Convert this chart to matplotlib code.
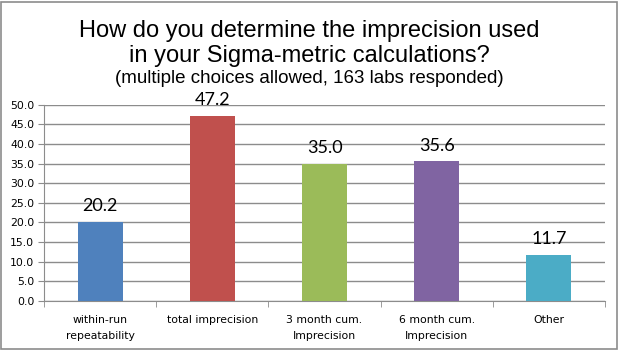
import matplotlib
matplotlib.use("Agg")
import matplotlib.pyplot as plt
from matplotlib.patches import Rectangle

categories = ["within-run\nrepeatability", "total imprecision",
              "3 month cum.\nImprecision", "6 month cum.\nImprecision", "Other"]
values = [20.2, 47.2, 35.0, 35.6, 11.7]
colors = ["#4F81BD", "#C0504D", "#9BBB59", "#8064A2", "#4BACC6"]
yticks = [0, 5, 10, 15, 20, 25, 30, 35, 40, 45, 50]

fig = plt.figure(figsize=(6.19, 3.5), dpi=100)
ax = fig.add_axes([44 / 619, 49 / 350, 561 / 619, 196.3 / 350])

x = list(range(len(values)))
ax.bar(x, values, width=0.4, color=colors, zorder=3)
for xi, v in zip(x, values):
    ax.text(xi, v + 2.7, f"{v:.1f}", ha="center", va="baseline",
            fontsize=13, family="Lato", zorder=4)

ax.set_xlim(-0.5, len(values) - 0.5)
ax.set_ylim(0, 50)
ax.set_yticks(yticks)
ax.set_yticklabels([f"{t:.1f}" for t in yticks], fontsize=7.8, family="DejaVu Sans")
ax.yaxis.grid(True, color="#8C8C8C", linewidth=1, zorder=0)

ax.set_xticks(x)
ax.set_xticklabels(categories, fontsize=7.8, family="DejaVu Sans", linespacing=1.75)
ax.set_xticks([i - 0.5 for i in range(len(values) + 1)], minor=True)
ax.tick_params(axis="x", which="major", length=0, pad=10)
ax.tick_params(axis="x", which="minor", length=4, color="#8C8C8C")
ax.tick_params(axis="y", length=4, color="#8C8C8C", pad=3)

for side in ["top", "right"]:
    ax.spines[side].set_visible(False)
for side in ["left", "bottom"]:
    ax.spines[side].set_color("#8C8C8C")

fig.text(0.5, 1 - 37 / 350, "How do you determine the imprecision used",
         ha="center", va="baseline", fontsize=17, family="Liberation Sans")
fig.text(0.5, 1 - 62 / 350, "in your Sigma-metric calculations?",
         ha="center", va="baseline", fontsize=17, family="Liberation Sans")
fig.text(0.5, 1 - 83 / 350, "(multiple choices allowed, 163 labs responded)",
         ha="center", va="baseline", fontsize=13.5, family="Liberation Sans")

fig.patches.append(Rectangle((1 / 619, 1 / 350), 616 / 619, 347 / 350,
                             transform=fig.transFigure, fill=False,
                             edgecolor="#8C8C8C", linewidth=1.2))

fig.savefig("out.png", dpi=100)
